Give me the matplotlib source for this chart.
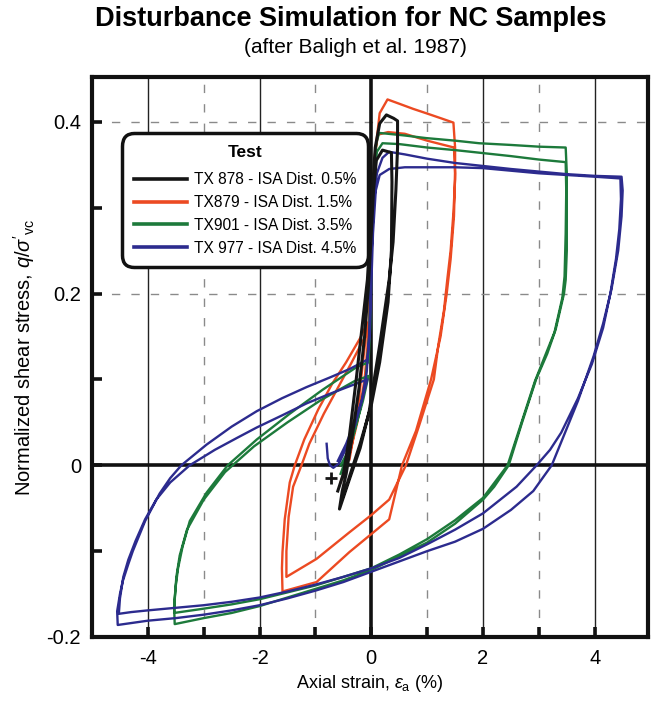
#!/usr/bin/env python3
"""Disturbance simulation (ISA cycles) for NC samples, after Baligh et al. 1987."""

import matplotlib

matplotlib.use("Agg")
import matplotlib.pyplot as plt
from matplotlib.ticker import MultipleLocator, FixedLocator


COLORS = {
    "tx878": "#151515",
    "tx879": "#ec4a22",
    "tx901": "#1d7a3b",
    "tx977": "#2c2b8e",
    "grid": "#8a8a8a",
    "frame": "#111111",
}

LABELS = [
    "TX 878 - ISA Dist. 0.5%",
    "TX879 - ISA Dist. 1.5%",
    "TX901 - ISA Dist. 3.5%",
    "TX 977 - ISA Dist. 4.5%",
]

X_TICKS = [-4, -2, 0, 2, 4]
X_TICK_LABELS = ["-4", "-2", "0", "2", "4"]
Y_TICKS = [-0.2, 0, 0.2, 0.4]
Y_TICK_LABELS = ["-0.2", "0", "0.2", "0.4"]

# TX 878, 0.5 % strain amplitude (two cycles)
tx878_x = [-0.60, -0.50, -0.40, -0.27, -0.15, -0.07, -0.02, 0.02, 0.07, 0.15, 0.27, 0.40, 0.47,
           0.47, 0.44, 0.39, 0.32, 0.15, -0.04, -0.20, -0.39, -0.57,
           -0.52, -0.45, -0.35, -0.22, -0.12, -0.05, 0.00, 0.04, 0.09, 0.20, 0.36,
           0.37, 0.36, 0.30, 0.15, 0.00, -0.20, -0.35, -0.50]
tx878_y = [-0.030, -0.010, 0.030, 0.100, 0.170, 0.216, 0.270, 0.320, 0.370, 0.398, 0.408, 0.404, 0.401,
           0.370, 0.320, 0.260, 0.216, 0.140, 0.062, 0.020, -0.016, -0.051,
           -0.030, -0.010, 0.030, 0.090, 0.150, 0.210, 0.270, 0.320, 0.355, 0.367, 0.364,
           0.330, 0.250, 0.190, 0.120, 0.070, 0.025, -0.005, -0.035]

# TX879, 1.5 % strain amplitude
tx879_x = [-0.55, -0.40, -0.25, -0.12, -0.04, 0.00, 0.03, 0.08, 0.15, 0.29, 0.50, 0.75, 0.98, 1.25, 1.47,
           1.50, 1.50, 1.47, 1.42, 1.36, 1.30, 1.20, 1.12, 0.85, 0.62, 0.32, 0.00, -0.39, -0.98, -1.52,
           -1.52, -1.48, -1.40, -1.25, -1.11, -0.85, -0.60, -0.35, -0.15, -0.05,
           -0.02, 0.02, 0.06, 0.12, 0.30, 0.60, 1.00, 1.48,
           1.50, 1.48, 1.42, 1.35, 1.24, 1.07, 0.80, 0.55, 0.32, -0.39, -0.98, -1.59,
           -1.60, -1.59, -1.55, -1.46, -1.37, -1.20, -0.95, -0.70, -0.45, -0.20, -0.07,
           -0.15, -0.25, -0.39]
tx879_y = [-0.020, 0.010, 0.050, 0.100, 0.160, 0.230, 0.300, 0.370, 0.410, 0.426, 0.421, 0.415, 0.410, 0.404, 0.399,
           0.370, 0.333, 0.294, 0.250, 0.216, 0.180, 0.140, 0.100, 0.045, 0.000, -0.040, -0.058, -0.078, -0.109, -0.130,
           -0.100, -0.060, -0.025, 0.000, 0.025, 0.060, 0.090, 0.120, 0.145, 0.155,
           0.220, 0.300, 0.360, 0.385, 0.388, 0.386, 0.378, 0.370,
           0.340, 0.290, 0.240, 0.200, 0.150, 0.100, 0.040, 0.000, -0.063, -0.101, -0.136, -0.147,
           -0.120, -0.101, -0.063, -0.020, 0.000, 0.030, 0.065, 0.095, 0.120, 0.148, 0.166,
           0.120, 0.060, 0.007]

# TX901, 3.5 % strain amplitude
tx901_x = [-0.55, -0.45, -0.32, -0.20, -0.10, -0.04, 0.00, 0.04, 0.09, 0.14, 0.30, 0.60, 0.98, 1.50, 1.93, 2.50, 3.00, 3.48,
           3.50, 3.50, 3.50, 3.48, 3.45, 3.30, 3.15, 2.95, 2.70, 2.46, 2.20, 2.00, 1.50, 1.00, 0.50, 0.00,
           -0.50, -1.00, -1.50, -2.00, -2.50, -3.00, -3.52,
           -3.53, -3.50, -3.46, -3.38, -3.25, -2.95, -2.57, -2.05, -1.46, -0.87, -0.27, -0.05,
           -0.02, 0.01, 0.05, 0.10, 0.20, 0.50, 1.00, 1.50, 1.93, 2.50, 3.00, 3.48,
           3.49, 3.48, 3.46, 3.42, 3.28, 2.93, 2.68, 2.44, 2.00, 1.50, 1.00, 0.50, 0.00,
           -0.50, -1.00, -1.50, -2.00, -2.50, -3.00, -3.53,
           -3.52, -3.49, -3.43, -3.30, -3.00, -2.62, -2.10, -1.50, -0.90, -0.30, -0.05,
           -0.15, -0.30, -0.45, -0.55]
tx901_y = [-0.010, 0.008, 0.035, 0.065, 0.100, 0.150, 0.250, 0.330, 0.375, 0.387, 0.386, 0.384, 0.381, 0.378, 0.375, 0.373, 0.371, 0.370,
           0.340, 0.300, 0.250, 0.216, 0.200, 0.158, 0.130, 0.100, 0.050, 0.000, -0.025, -0.040, -0.068, -0.090, -0.106, -0.122,
           -0.134, -0.144, -0.154, -0.164, -0.172, -0.178, -0.185,
           -0.165, -0.140, -0.120, -0.095, -0.065, -0.032, 0.000, 0.030, 0.060, 0.088, 0.114, 0.120,
           0.160, 0.260, 0.330, 0.365, 0.375, 0.374, 0.370, 0.367, 0.364, 0.360, 0.356, 0.353,
           0.320, 0.270, 0.220, 0.195, 0.155, 0.098, 0.048, 0.000, -0.038, -0.064, -0.086, -0.104, -0.120,
           -0.130, -0.140, -0.148, -0.156, -0.162, -0.167, -0.172,
           -0.155, -0.130, -0.105, -0.075, -0.040, -0.008, 0.022, 0.050, 0.076, 0.098, 0.104,
           0.075, 0.040, 0.012, 0.000]

# TX 977, 4.5 % strain amplitude
tx977_x = [-0.80, -0.78, -0.74, -0.68, -0.58, -0.45, -0.30, -0.17, -0.08, -0.03, 0.00, 0.04, 0.10, 0.20, 0.32,
           0.60, 1.00, 1.50, 1.93, 2.50, 3.00, 3.50, 4.00, 4.48,
           4.50, 4.48, 4.42, 4.30, 4.15, 3.98, 3.70, 3.45, 3.23, 2.90, 2.50, 2.00, 1.50, 1.00, 0.50, 0.00,
           -0.50, -1.00, -1.50, -2.00, -2.50, -3.00, -3.50, -4.00, -4.54,
           -4.55, -4.50, -4.45, -4.35, -4.27, -4.05, -3.79, -3.60, -3.40, -2.95, -2.50, -2.05, -1.60, -1.16,
           -0.75, -0.39, -0.07,
           -0.03, 0.00, 0.03, 0.08, 0.15, 0.32, 0.60, 1.00, 1.50, 2.00, 2.50, 3.00, 3.50, 4.00, 4.46,
           4.47, 4.44, 4.38, 4.28, 4.15, 3.95, 3.70, 3.40, 3.20, 2.96, 2.60, 2.00, 1.50, 1.00, 0.50, 0.00,
           -0.50, -1.00, -1.50, -2.00, -2.50, -3.00, -3.50, -4.00, -4.30, -4.52,
           -4.50, -4.44, -4.35, -4.22, -4.05, -3.85, -3.60, -3.25, -2.80, -2.40, -2.05, -1.60, -1.16,
           -0.75, -0.39, -0.07,
           -0.15, -0.30, -0.45, -0.60]
tx977_y = [0.025, 0.008, 0.000, -0.003, 0.002, 0.020, 0.045, 0.075, 0.110, 0.160, 0.240, 0.300, 0.340, 0.358, 0.365,
           0.362, 0.357, 0.352, 0.349, 0.345, 0.342, 0.339, 0.337, 0.336,
           0.320, 0.290, 0.250, 0.205, 0.165, 0.127, 0.075, 0.035, 0.000, -0.030, -0.052, -0.074, -0.089, -0.100, -0.112, -0.124,
           -0.136, -0.146, -0.155, -0.163, -0.169, -0.174, -0.178, -0.181, -0.186,
           -0.170, -0.150, -0.135, -0.115, -0.100, -0.065, -0.033, -0.015, 0.000, 0.024, 0.045, 0.063, 0.078, 0.091,
           0.102, 0.112, 0.123,
           0.150, 0.210, 0.270, 0.320, 0.338, 0.345, 0.347, 0.347, 0.347, 0.346, 0.343, 0.340, 0.338, 0.336, 0.334,
           0.310, 0.275, 0.240, 0.200, 0.160, 0.118, 0.078, 0.038, 0.018, 0.000, -0.025, -0.056, -0.075, -0.092, -0.108, -0.120,
           -0.130, -0.139, -0.147, -0.154, -0.159, -0.163, -0.166, -0.169, -0.171, -0.173,
           -0.155, -0.130, -0.110, -0.088, -0.063, -0.040, -0.020, 0.000, 0.018, 0.032, 0.044, 0.058, 0.072,
           0.083, 0.092, 0.100,
           0.080, 0.050, 0.025, 0.005]

# start marker of the 0.5 % test
start_x = [-0.72]
start_y = [-0.015]


def configure_plot_style():
    plt.rcParams.update({
        "font.family": ["Liberation Sans", "DejaVu Sans"],
        "mathtext.fontset": "custom",
        "mathtext.rm": "Liberation Sans",
        "mathtext.it": "Liberation Sans:italic",
        "axes.unicode_minus": False,
        "figure.facecolor": "white",
        "axes.facecolor": "white",
        "savefig.facecolor": "white",
    })


def draw_grid(ax):
    for x in [-4, -2, 2, 4]:
        ax.axvline(x, color="#222222", lw=1.0, zorder=1)
    for x in [-3, -1, 1, 3]:
        ax.axvline(x, color=COLORS["grid"], lw=1.0, ls=(0, (6, 8)), zorder=1)
    for y in [0.2, 0.4]:
        ax.axhline(y, color=COLORS["grid"], lw=1.0, ls=(0, (6, 8)), zorder=1)
    ax.axvline(0, color=COLORS["frame"], lw=2.6, zorder=1.5)
    ax.axhline(0, color=COLORS["frame"], lw=2.6, zorder=1.5)


def main():
    configure_plot_style()
    fig = plt.figure(figsize=(6.55, 7.01), dpi=100)
    ax = fig.add_axes([0.1405, 0.0913, 0.8485, 0.7987])

    draw_grid(ax)

    series = [
        (tx878_x, tx878_y, COLORS["tx878"], 2.2, 5),
        (tx879_x, tx879_y, COLORS["tx879"], 1.7, 3),
        (tx901_x, tx901_y, COLORS["tx901"], 1.7, 3.2),
        (tx977_x, tx977_y, COLORS["tx977"], 1.7, 3.4),
    ]
    handles = []
    for (xs, ys, color, lw, z), label in zip(series, LABELS):
        (line,) = ax.plot(xs, ys, color=color, lw=lw, zorder=z, label=label,
                          solid_joinstyle="round")
        handles.append(line)
    ax.plot(start_x, start_y, marker="+", ms=9, mew=2, color=COLORS["tx878"],
            ls="none", zorder=5)

    ax.set_xlim(-5.0, 4.95)
    ax.set_ylim(-0.2, 0.452)

    ax.xaxis.set_major_locator(FixedLocator(X_TICKS))
    ax.set_xticklabels(X_TICK_LABELS)
    ax.xaxis.set_minor_locator(MultipleLocator(1))
    ax.yaxis.set_major_locator(FixedLocator(Y_TICKS))
    ax.set_yticklabels(Y_TICK_LABELS)
    ax.yaxis.set_minor_locator(MultipleLocator(0.1))
    ax.tick_params(which="both", direction="in", length=7, width=2.6,
                   color=COLORS["frame"], top=False, right=False)
    ax.tick_params(axis="x", which="major", labelsize=14.5, pad=9)
    ax.tick_params(axis="y", which="major", labelsize=14.5, pad=8)

    for spine in ax.spines.values():
        spine.set_linewidth(3.0)
        spine.set_color(COLORS["frame"])

    fig.text(370 / 655, 1 - 684 / 701, r"Axial strain, $\varepsilon_{\rm a}$ (%)",
             ha="center", va="center", fontsize=13)
    fig.text(24 / 655, 1 - 357 / 701, r"Normalized shear stress, $q/\sigma'_{\rm vc}$",
             ha="center", va="center", rotation=90, fontsize=14.5)

    legend = ax.legend(
        handles=handles,
        title="Test",
        loc="upper left",
        bbox_to_anchor=(0.054, 0.9),
        borderaxespad=0,
        fontsize=11.2,
        title_fontproperties={"weight": "bold", "size": 12.5},
        handlelength=3.4,
        handletextpad=0.5,
        labelspacing=0.5,
        borderpad=0.75,
        fancybox=True,
        framealpha=1,
    )
    legend._legend_box.sep = 9
    frame = legend.get_frame()
    frame.set_edgecolor(COLORS["frame"])
    frame.set_linewidth(2.5)
    frame.set_boxstyle("round,pad=0,rounding_size=0.8")
    legend.set_zorder(10)
    for line in legend.get_lines():
        line.set_linewidth(2.6)

    fig.text(0.535, 0.973, "Disturbance Simulation for NC Samples",
             ha="center", va="center", fontsize=19.5, fontweight="bold")
    fig.text(0.542, 0.932, "(after Baligh et al. 1987)",
             ha="center", va="center", fontsize=15)

    fig.savefig("out.png", dpi=100)
    plt.close(fig)


if __name__ == "__main__":
    main()
